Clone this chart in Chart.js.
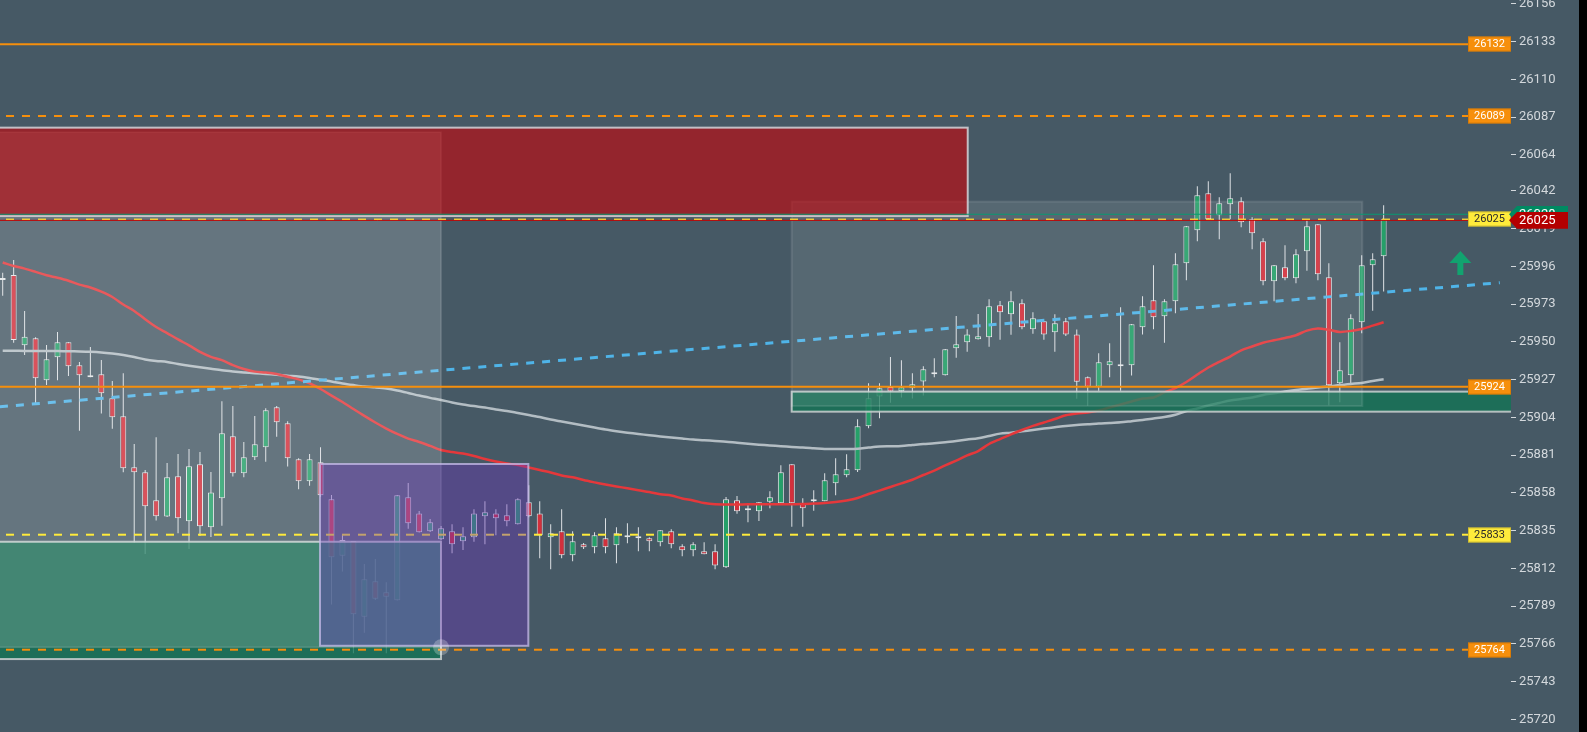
<!DOCTYPE html>
<html>
<head>
<meta charset="utf-8">
<script src="https://cdn.jsdelivr.net/npm/chart.js@4.4.0/dist/chart.umd.min.js"></script>
<style>
  html, body { margin: 0; padding: 0; background: #000; overflow: hidden; }
  #wrap { width: 1579px; height: 732px; background: #465965; }
</style>
</head>
<body>
<div id="wrap"><canvas id="chart" width="1579" height="732"></canvas></div>
<script>
// price axis labels
var tickLabels = [25720, 25743, 25766, 25789, 25812, 25835, 25858, 25881, 25904, 25927,
                  25950, 25973, 25996, 26019, 26042, 26064, 26087, 26110, 26133, 26156];

// candles, one per bar, oldest first
var opens = [
  25989.0, 25990.8, 25947.9, 25952.2, 25926.6, 25940.6, 25949.8, 25935.8, 25929.7, 25930.3,
  25915.6, 25904.7, 25873.6, 25870.5, 25853.5, 25843.6, 25868.1, 25840.7, 25875.4, 25837.0,
  25854.7, 25892.5, 25869.9, 25879.7, 25885.8, 25910.2, 25900.4, 25878.5, 25865.1, 25876.6,
  25854.1, 25819.7, 25828.7, 25782.5, 25804.1, 25797.4, 25792.5, 25855.3, 25845.5, 25834.6,
  25829.7, 25834.6, 25828.5, 25830.9, 25843.7, 25845.5, 25844.3, 25838.8, 25852.3, 25845.5,
  25830.9, 25834.6, 25820.0, 25826.7, 25824.8, 25830.3, 25826.0, 25832.1, 25831.5, 25830.3,
  25827.9, 25834.6, 25825.4, 25823.0, 25822.4, 25822.4, 25812.6, 25853.5, 25848.6, 25846.8,
  25852.6, 25851.6, 25875.4, 25851.6, 25852.9, 25852.9, 25863.8, 25868.7, 25871.8, 25898.6,
  25916.7, 25922.5, 25919.9, 25921.7, 25925.9, 25931.5, 25929.7, 25946.1, 25949.8, 25951.6,
  25952.8, 25972.3, 25966.8, 25973.5, 25957.7, 25962.6, 25955.9, 25962.6, 25954.6, 25928.4,
  25922.7, 25935.8, 25936.4, 25935.8, 25958.9, 25975.4, 25965.6, 25974.8, 25997.9, 26018.0,
  26040.6, 26027.2, 26033.9, 26035.7, 26024.7, 26011.3, 25987.0, 25995.5, 25988.8, 26005.2,
  26021.7, 25989.4, 25924.8, 25929.7, 25962.0, 25996.7, 26002.2
];
var highs = [
  25992.2, 25999.9, 25968.9, 25952.8, 25948.1, 25956.0, 25949.8, 25937.8, 25946.9, 25939.0,
  25926.2, 25930.9, 25887.8, 25871.9, 25891.9, 25876.2, 25881.7, 25884.7, 25882.9, 25870.7,
  25913.8, 25910.9, 25889.0, 25904.9, 25909.5, 25910.9, 25901.6, 25879.1, 25881.7, 25885.8,
  25856.7, 25832.3, 25828.7, 25814.6, 25817.7, 25803.5, 25856.7, 25864.0, 25847.0, 25842.1,
  25837.8, 25838.8, 25837.0, 25848.0, 25852.9, 25848.0, 25851.0, 25854.7, 25862.6, 25852.9,
  25838.8, 25848.0, 25834.6, 25827.4, 25834.0, 25842.5, 25837.0, 25839.5, 25837.0, 25830.9,
  25835.2, 25835.8, 25826.7, 25827.9, 25827.9, 25826.7, 25855.5, 25856.1, 25851.6, 25852.4,
  25859.0, 25874.8, 25875.4, 25854.7, 25859.6, 25869.9, 25879.1, 25881.5, 25902.8, 25924.8,
  25924.8, 25940.8, 25938.8, 25930.9, 25935.1, 25940.0, 25945.7, 25965.8, 25957.7, 25967.0,
  25976.0, 25974.9, 25980.9, 25976.0, 25968.1, 25962.6, 25966.8, 25964.6, 25957.5, 25929.0,
  25943.1, 25949.2, 25971.1, 25960.9, 25977.8, 25996.7, 25976.0, 26004.0, 26020.7, 26044.9,
  26047.9, 26038.2, 26052.8, 26038.2, 26026.0, 26013.2, 25996.9, 26008.9, 26006.5, 26024.1,
  26021.9, 25997.9, 25949.8, 25966.8, 26002.8, 26004.0, 26033.3
];
var lows = [
  25978.2, 25949.5, 25942.0, 25912.6, 25923.7, 25926.6, 25929.2, 25895.9, 25928.4, 25906.3,
  25897.1, 25870.5, 25827.4, 25820.7, 25841.2, 25843.3, 25833.4, 25823.8, 25831.7, 25831.1,
  25838.0, 25867.9, 25867.5, 25878.0, 25877.0, 25892.2, 25874.0, 25860.2, 25862.4, 25855.7,
  25790.0, 25810.0, 25760.2, 25772.8, 25792.7, 25760.2, 25792.4, 25836.2, 25833.8, 25834.1,
  25829.3, 25821.2, 25823.2, 25828.2, 25826.7, 25832.1, 25837.6, 25838.7, 25843.1, 25818.1,
  25811.4, 25818.1, 25816.3, 25823.8, 25821.2, 25821.2, 25815.1, 25827.3, 25822.4, 25822.4,
  25825.4, 25824.2, 25819.3, 25819.3, 25820.6, 25811.4, 25812.2, 25845.3, 25840.1, 25840.9,
  25848.6, 25851.6, 25837.4, 25837.4, 25847.1, 25852.9, 25856.5, 25867.5, 25870.7, 25897.4,
  25903.5, 25913.0, 25916.1, 25915.5, 25917.3, 25928.4, 25929.5, 25940.4, 25944.0, 25951.5,
  25947.1, 25951.4, 25954.4, 25957.7, 25955.0, 25951.4, 25944.0, 25953.6, 25915.4, 25911.1,
  25920.3, 25928.4, 25920.3, 25929.5, 25954.6, 25957.7, 25949.5, 25967.4, 25987.6, 26011.3,
  26024.6, 26012.6, 26024.7, 26019.9, 26006.5, 25984.5, 25974.8, 25987.6, 25985.7, 25993.4,
  25987.6, 25911.4, 25913.2, 25924.4, 25955.3, 25969.0, 25980.7
];
var closes = [
  25987.7, 25951.2, 25953.2, 25927.8, 25939.4, 25949.8, 25935.1, 25929.7, 25928.4, 25918.7,
  25904.1, 25873.0, 25870.5, 25849.8, 25843.7, 25867.5, 25842.5, 25874.2, 25837.6, 25858.3,
  25894.3, 25869.9, 25879.7, 25887.6, 25908.3, 25901.0, 25879.1, 25865.1, 25878.5, 25856.5,
  25818.7, 25829.3, 25784.0, 25805.3, 25793.5, 25794.7, 25856.5, 25839.5, 25834.0, 25840.1,
  25836.4, 25826.7, 25831.5, 25845.5, 25846.2, 25842.5, 25840.7, 25854.1, 25843.7, 25832.1,
  25833.4, 25820.0, 25828.5, 25824.8, 25832.1, 25824.8, 25833.4, 25830.9, 25830.3, 25828.5,
  25835.2, 25826.7, 25823.0, 25826.7, 25820.6, 25813.8, 25854.1, 25846.8, 25847.4, 25852.3,
  25855.3, 25870.5, 25851.6, 25848.6, 25854.1, 25865.7, 25869.3, 25872.4, 25898.6, 25915.6,
  25921.7, 25919.8, 25922.3, 25924.2, 25933.3, 25930.3, 25945.5, 25948.6, 25954.6, 25953.4,
  25971.7, 25968.1, 25974.8, 25958.9, 25964.4, 25954.6, 25961.4, 25954.6, 25925.8, 25922.7,
  25937.6, 25938.2, 25935.1, 25960.7, 25971.7, 25965.0, 25974.8, 25997.3, 26020.5, 26039.4,
  26024.7, 26034.5, 26037.5, 26022.9, 26016.2, 25987.0, 25996.7, 25988.8, 26003.4, 26020.5,
  25991.2, 25923.6, 25932.7, 25964.4, 25996.7, 26000.4, 26024.7
];

// moving averages
var maFast = [
  25998.4, 25996.3, 25994.7, 25992.7, 25990.6, 25989.1, 25987.3, 25984.9, 25983.2, 25980.6,
  25977.4, 25972.8, 25968.9, 25963.8, 25959.1, 25955.4, 25951.5, 25947.9, 25943.9, 25940.9,
  25938.9, 25935.9, 25933.5, 25931.9, 25931.4, 25930.5, 25928.8, 25927.2, 25924.8, 25921.3,
  25917.3, 25913.4, 25909.1, 25904.9, 25900.9, 25897.2, 25893.9, 25891.1, 25889.0, 25886.6,
  25884.1, 25882.9, 25882.0, 25880.5, 25878.6, 25877.1, 25875.9, 25875.0, 25873.5, 25871.9,
  25870.4, 25868.6, 25867.5, 25865.8, 25864.4, 25863.1, 25861.9, 25860.8, 25859.6, 25858.5,
  25857.1, 25856.4, 25854.6, 25853.4, 25851.8, 25851.0, 25850.9, 25850.9, 25851.0, 25851.0,
  25851.0, 25851.0, 25851.1, 25851.2, 25851.5, 25851.8, 25852.4, 25853.4, 25854.9, 25857.3,
  25859.4, 25861.6, 25863.8, 25866.0, 25868.9, 25871.6, 25874.7, 25877.7, 25880.8, 25883.5,
  25887.8, 25890.8, 25893.6, 25896.3, 25898.8, 25900.9, 25903.0, 25905.3, 25906.4, 25907.0,
  25908.2, 25910.0, 25911.9, 25913.7, 25915.5, 25916.1, 25919.2, 25921.9, 25925.6, 25930.1,
  25934.4, 25937.8, 25941.1, 25944.9, 25947.2, 25949.5, 25951.0, 25952.4, 25954.1, 25956.9,
  25958.2, 25957.4, 25956.1, 25956.7, 25957.9, 25959.9, 25962.0
];
var maSlow = [
  25944.6, 25944.6, 25944.5, 25944.5, 25944.5, 25944.4, 25944.3, 25944.2, 25944.0, 25943.6,
  25942.9, 25942.0, 25940.8, 25939.3, 25938.4, 25937.8, 25936.5, 25935.5, 25934.5, 25933.6,
  25932.7, 25932.0, 25931.4, 25930.9, 25930.5, 25930.0, 25929.4, 25928.9, 25928.0, 25926.9,
  25925.9, 25924.7, 25923.7, 25922.8, 25922.3, 25921.6, 25920.4, 25918.9, 25917.3, 25915.9,
  25914.6, 25913.1, 25911.9, 25910.9, 25910.0, 25908.8, 25907.9, 25906.7, 25905.5, 25904.2,
  25902.7, 25901.5, 25900.3, 25899.1, 25897.8, 25896.6, 25895.6, 25894.7, 25893.9, 25893.1,
  25892.4, 25891.7, 25891.1, 25890.5, 25890.1, 25889.6, 25889.2, 25888.5, 25887.9, 25887.4,
  25886.9, 25886.4, 25886.0, 25885.7, 25885.2, 25884.7, 25884.7, 25884.7, 25884.9, 25885.6,
  25886.2, 25886.4, 25886.6, 25887.2, 25887.8, 25888.2, 25888.8, 25889.6, 25890.5, 25891.3,
  25892.7, 25894.1, 25894.7, 25895.5, 25896.3, 25897.2, 25898.0, 25898.8, 25899.4, 25899.8,
  25900.3, 25900.6, 25901.0, 25901.7, 25902.4, 25903.3, 25904.2, 25905.6, 25907.9, 25909.4,
  25911.3, 25912.8, 25914.3, 25915.2, 25916.1, 25917.7, 25918.7, 25919.8, 25920.7, 25921.4,
  25922.2, 25922.8, 25923.7, 25924.4, 25925.0, 25926.2, 25927.2
];

// dashed trend line end points [bar, price]
var trendLine = [[-0.25, 25910.5], [136.6, 25986.1]];

// horizontal levels and their axis tags
var levelPrices = [26131.4, 26087.7, 26024.7, 25922.7, 25832.5, 25762.4];
var levelTexts = ['26132', '26089', '26025', '25924', '25833', '25764'];
var lastPrice = 26024.1, lastText = '26025';
var prevPrice = 26027.8, prevText = '26028';

// zones: bar range and price range
var zoneRed = { x0: -2, x1: 88.05, lo: 26026.7, hi: 26080.6 };
var zoneGreyLeft = { x0: -2, x1: 40.0, lo: 25763.9, hi: 26077.8 };
var zoneGreyRight = { x0: 71.99, x1: 124.05, lo: 25910.9, hi: 26035.5 };
var zoneGreenLeft = { x0: -2, x1: 39.99, lo: 25756.7, hi: 25828.2 };
var zoneGreenRight = { x0: 71.99, x1: 140, lo: 25907.5, hi: 25919.7 };
var zonePurple = { x0: 28.95, x1: 47.96, lo: 25764.8, hi: 25875.6 };
var signalUp = [133.0, 26005.4];

var UP = '#25a069', DOWN = '#d2303c', EDGE = '#e3e6e8';
var ORANGE = '#f68f0c', YELLOW = '#ffeb3b';
var FONT = 'Roboto, "Noto Sans", sans-serif';

var levelLook = [
  { color: ORANGE, dash: [], width: 2 },
  { color: ORANGE, dash: [8, 8], width: 2 },
  { color: YELLOW, dash: [8, 8], width: 1.5, dark: true },
  { color: ORANGE, dash: [], width: 2 },
  { color: YELLOW, dash: [8, 8], width: 2, dark: true },
  { color: ORANGE, dash: [8, 8], width: 2 }
];

var bodies = [], wicks = [], fastPts = [], slowPts = [];
opens.forEach(function (o, i) {
  bodies.push({ x: i, y: [o, closes[i]] });
  wicks.push({ x: i, y: [lows[i], highs[i]] });
  fastPts.push({ x: i, y: maFast[i] });
  slowPts.push({ x: i, y: maSlow[i] });
});

var overlay = {
  id: 'overlay',
  afterDatasetsDraw: function (chart) {
    var ctx = chart.ctx, a = chart.chartArea;
    var X = function (v) { return chart.scales.x.getPixelForValue(v); };
    var Y = function (v) { return chart.scales.y.getPixelForValue(v); };
    function box(z, fill, stroke, lw) {
      var l = X(z.x0), r = X(z.x1), t = Y(z.hi), b = Y(z.lo);
      ctx.fillStyle = fill;
      ctx.fillRect(l, t, r - l, b - t);
      if (stroke) {
        ctx.strokeStyle = stroke;
        ctx.lineWidth = lw;
        ctx.strokeRect(l, t, r - l, b - t);
      }
    }
    function hline(price, color, width, dash, right) {
      var y = Y(price);
      ctx.strokeStyle = color;
      ctx.lineWidth = width;
      ctx.setLineDash(dash);
      ctx.lineDashOffset = 10;
      ctx.beginPath();
      ctx.moveTo(a.left, y);
      ctx.lineTo(right, y);
      ctx.stroke();
      ctx.setLineDash([]);
    }
    ctx.save();
    ctx.beginPath();
    ctx.rect(a.left, a.top, a.right - a.left, a.bottom - a.top);
    ctx.clip();

    box(zoneGreenLeft, 'rgba(18,117,84,0.78)', 'rgba(205,210,210,0.85)', 2);
    box(zoneGreenRight, 'rgba(18,117,84,0.78)', 'rgba(205,210,210,0.85)', 2);
    box(zoneGreyLeft, 'rgba(255,255,255,0.17)', 'rgba(255,255,255,0.15)', 1.5);
    box(zoneGreyRight, 'rgba(255,255,255,0.09)', 'rgba(255,255,255,0.10)', 2);
    box(zoneRed, 'rgba(200,4,8,0.6)', 'rgba(205,205,210,0.9)', 2);

    hline(prevPrice, '#089a72', 1, [], a.right);
    levelPrices.forEach(function (p, i) {
      var s = levelLook[i];
      hline(p, s.color, s.width, s.dash, a.right - 43);
    });
    hline(lastPrice, '#c40000', 1, [], a.right);

    box(zonePurple, 'rgba(105,52,186,0.4)', 'rgba(200,190,235,0.75)', 2);
    ctx.fillStyle = 'rgba(255,255,255,0.25)';
    ctx.beginPath();
    ctx.arc(X(zoneGreyLeft.x1), Y(zoneGreyLeft.lo), 8, 0, Math.PI * 2);
    ctx.fill();

    // up arrow signal
    var ax = X(signalUp[0]), ay = Y(signalUp[1]);
    ctx.fillStyle = '#12a36f';
    ctx.beginPath();
    ctx.moveTo(ax, ay);
    ctx.lineTo(ax + 11, ay + 12);
    ctx.lineTo(ax + 3, ay + 12);
    ctx.lineTo(ax + 3, ay + 24);
    ctx.lineTo(ax - 3, ay + 24);
    ctx.lineTo(ax - 3, ay + 12);
    ctx.lineTo(ax - 11, ay + 12);
    ctx.closePath();
    ctx.fill();
    ctx.restore();
  },
  afterDraw: function (chart) {
    var ctx = chart.ctx, a = chart.chartArea;
    var Y = function (v) { return chart.scales.y.getPixelForValue(v); };
    ctx.save();
    ctx.textBaseline = 'middle';
    ctx.font = '11px ' + FONT;
    ctx.textAlign = 'center';
    levelPrices.forEach(function (p, i) {
      var y = Math.round(Y(p)), s = levelLook[i];
      ctx.fillStyle = s.color;
      ctx.fillRect(a.right - 43, y - 7.5, 43, 15);
      ctx.strokeStyle = s.dark ? 'rgba(180,160,40,0.6)' : 'rgba(200,110,0,0.6)';
      ctx.lineWidth = 1;
      ctx.strokeRect(a.right - 42.5, y - 7, 42, 14);
      ctx.fillStyle = s.dark ? '#2a2a2a' : '#ffffff';
      ctx.fillText(levelTexts[i], a.right - 21.5, y + 0.5);
    });
    function tag(price, text, color) {
      var y = Y(price), h = 8.3, r = a.right;
      ctx.fillStyle = color;
      ctx.beginPath();
      ctx.moveTo(r - 2, y);
      ctx.lineTo(r + 6, y - h);
      ctx.lineTo(r + 57, y - h);
      ctx.lineTo(r + 57, y + h);
      ctx.lineTo(r + 6, y + h);
      ctx.closePath();
      ctx.fill();
      ctx.fillStyle = '#ffffff';
      ctx.font = '13px ' + FONT;
      ctx.textAlign = 'left';
      ctx.fillText(text, r + 8, y + 0.5);
    }
    tag(prevPrice, prevText, '#008a62');
    tag(lastPrice, lastText, '#b40000');
    ctx.restore();
  }
};

new Chart(document.getElementById('chart'), {
  type: 'bar',
  data: {
    datasets: [
      {
        type: 'line', data: trendLine.map(function (p) { return { x: p[0], y: p[1] }; }),
        borderColor: '#4fb4e8', borderWidth: 3, borderDash: [8, 8], pointRadius: 0, order: 0
      },
      {
        type: 'line', data: fastPts, borderColor: '#e5383b', borderWidth: 2.5,
        pointRadius: 0, tension: 0.3, order: 1
      },
      {
        type: 'line', data: slowPts, borderColor: '#b3bdc3', borderWidth: 2.5,
        pointRadius: 0, tension: 0.3, order: 2
      },
      {
        data: bodies, grouped: false, maxBarThickness: 6, minBarLength: 2,
        backgroundColor: function (c) { return closes[c.dataIndex] >= opens[c.dataIndex] ? UP : DOWN; },
        borderColor: EDGE, borderWidth: 1, borderSkipped: false, order: 3
      },
      {
        data: wicks, grouped: false, maxBarThickness: 1,
        backgroundColor: '#dde1e4', borderWidth: 0, order: 4
      }
    ]
  },
  options: {
    responsive: false,
    animation: false,
    devicePixelRatio: 1,
    layout: { padding: 0, autoPadding: false },
    plugins: { legend: { display: false }, tooltip: { enabled: false } },
    scales: {
      x: {
        type: 'linear', display: false, offset: false, bounds: 'ticks',
        min: -0.246, max: 137.62, grid: { offset: false }
      },
      y: {
        position: 'right',
        min: 25712.25,
        max: 26158.4,
        afterFit: function (s) { s.width = 68; s.paddingTop = 0; s.paddingBottom = 0; },
        afterBuildTicks: function (s) { s.ticks = tickLabels.map(function (v) { return { value: v }; }); },
        ticks: {
          color: '#d3d8dc', padding: 3, autoSkip: false,
          font: { family: FONT, size: 13 },
          callback: function (v) { return String(v); }
        },
        grid: { drawOnChartArea: false, tickLength: 5, color: '#d3d8dc' },
        border: { display: false }
      }
    }
  },
  plugins: [overlay]
});
</script>
</body>
</html>
